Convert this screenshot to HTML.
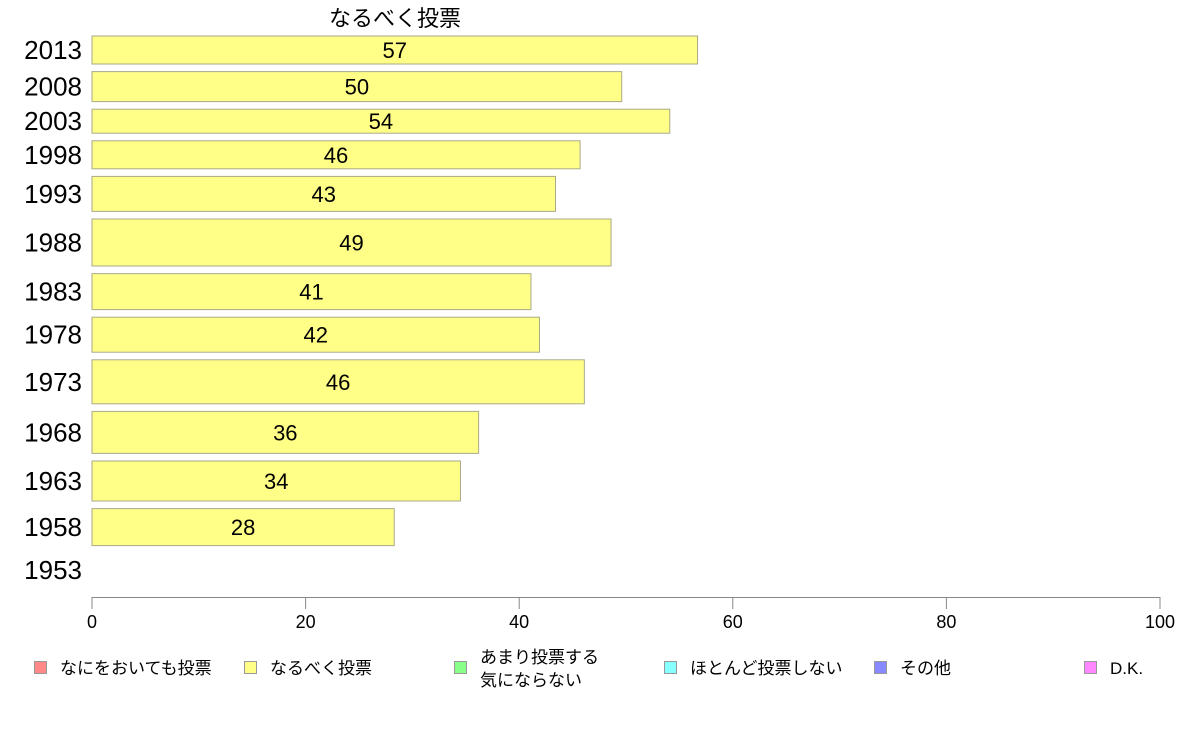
<!DOCTYPE html>
<html><head><meta charset="utf-8">
<style>
html,body{margin:0;padding:0;background:#fff;}
svg{display:block;font-family:"Liberation Sans","Noto Sans CJK JP",sans-serif;}
</style></head>
<body>
<svg id="chart" width="1188" height="736" viewBox="0 0 1188 736">
<text x="395" y="26" font-size="22" text-anchor="middle" fill="#000">なるべく投票</text>
<g id="bars"></g>
<g id="axis"></g>
<g id="legend"></g>
</svg>
<script>
const years = ["2013","2008","2003","1998","1993","1988","1983","1978","1973","1968","1963","1958","1953"];
const values = [56.7,49.6,54.1,45.7,43.4,48.6,41.1,41.9,46.1,36.2,34.5,28.3,null];
const valueLabels = ["57","50","54","46","43","49","41","42","46","36","34","28",""];
const weights = [28,30,24,28,35,47,36,35,44,42,40,37,34];
const ticks = [0,20,40,60,80,100];
const legendLabels = [["なにをおいても投票"],["なるべく投票"],["あまり投票する","気にならない"],["ほとんど投票しない"],["その他"],["D.K."]];
const legendColors = ["#ff8888","#ffff88","#88ff88","#88ffff","#8888ff","#ff88ff"];

const NS="http://www.w3.org/2000/svg";
const x0=92,x1=1160,gap=7.6,yStart=36;
const xs=v=>x0+(x1-x0)*v/100;
function mk(tag,attrs,parent,txt){const e=document.createElementNS(NS,tag);for(const k in attrs)e.setAttribute(k,attrs[k]);if(txt!==undefined)e.textContent=txt;parent.appendChild(e);return e;}
const gb=document.getElementById('bars');
let y=yStart;
years.forEach((yr,i)=>{
  const h=weights[i], cy=y+h/2;
  const lab=mk('text',{x:82,y:cy+9,'font-size':26,'text-anchor':'end',fill:'#000'},gb,yr);
  
  
  if(values[i]!==null){
    const r=mk('rect',{x:x0,y:y,width:xs(values[i])-x0,height:h,fill:'#ffff88',stroke:'#aaaa88','stroke-width':1},gb);
    
    
    const t=mk('text',{x:(x0+xs(values[i]))/2,y:cy+8,'font-size':22,'text-anchor':'middle',fill:'#000'},gb,valueLabels[i]);
    
    
  }
  y+=h+gap;
});
const ga=document.getElementById('axis');
const al=mk('line',{x1:x0,y1:597.5,x2:x1,y2:597.5,stroke:'#888','stroke-width':1},ga);


ticks.forEach(t=>{
  const tl=mk('line',{x1:xs(t),y1:597,x2:xs(t),y2:609,stroke:'#888','stroke-width':1},ga);
  
  
  const tx=mk('text',{x:xs(t),y:628,'font-size':18,'text-anchor':'middle',fill:'#000'},ga,String(t));
  
  
});
const gl=document.getElementById('legend');
legendLabels.forEach((lines,i)=>{
  const bx=34+i*210;
  const sq=mk('rect',{x:bx+0.5,y:661.5,width:12,height:12,fill:legendColors[i],stroke:'#999','stroke-width':1},gl);
  
  
  const ty=lines.length>1?[663,686]:[674];
  lines.forEach((ln,j)=>{
    const t=mk('text',{x:bx+26,y:ty[j],'font-size':17,fill:'#000'},gl,ln);
    
    
  });
});
</script>
</body></html>
